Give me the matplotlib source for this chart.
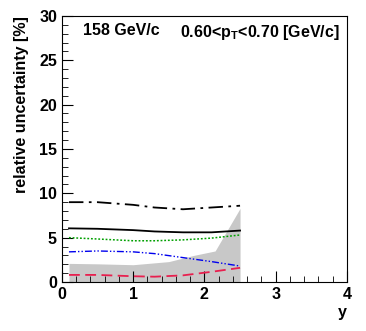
import numpy as np
import matplotlib
matplotlib.use("Agg")
import matplotlib.pyplot as plt
from matplotlib.ticker import MultipleLocator

plt.rcParams['font.family'] = ['Liberation Sans', 'DejaVu Sans']
plt.rcParams['font.weight'] = 'bold'
plt.rcParams['mathtext.fontset'] = 'custom'
plt.rcParams['mathtext.rm'] = 'Liberation Sans:bold'
plt.rcParams['mathtext.bf'] = 'Liberation Sans:bold'

# rapidity points
y_pts = [0.1, 0.5, 1.0, 1.3, 1.7, 2.1, 2.5]
dashdot_black = [9.0, 9.0, 8.7, 8.4, 8.2, 8.4, 8.6]
solid_black = [6.05, 6.0, 5.85, 5.7, 5.6, 5.6, 5.8]
green_dotted = [5.0, 4.85, 4.65, 4.65, 4.75, 4.95, 5.3]
blue_dashdotdot = [3.4, 3.5, 3.4, 3.2, 2.75, 2.3, 1.8]
red_dashed = [0.8, 0.8, 0.65, 0.6, 0.75, 1.15, 1.6]

# gray band (statistical)
band_x = [0.1, 0.5, 1.0, 1.5, 1.85, 2.15, 2.5]
band_top = [2.1, 2.05, 1.95, 2.3, 3.0, 3.5, 8.3]

fig = plt.figure(figsize=(3.66, 3.31), dpi=100)
ax = fig.add_axes([0.169, 0.148, 0.779, 0.804])

ax.fill_between(band_x, 0, band_top, color='#c8c8c8', lw=0)
ax.plot(y_pts, dashdot_black, color='black', lw=1.3, dashes=(8, 3, 1.5, 3))
ax.plot(y_pts, solid_black, color='black', lw=1.3)
ax.plot(y_pts, green_dotted, color='#00a000', lw=1.1, dashes=(1.2, 1.2))
ax.plot(y_pts, blue_dashdotdot, color='#0000ee', lw=1.0, dashes=(5, 1.5, 1, 1.5, 1, 1.5))
ax.plot(y_pts, red_dashed, color='#e8204f', lw=1.3, dashes=(6, 3))

ax.set_xlim(0, 4)
ax.set_ylim(0, 30)
ax.xaxis.set_major_locator(MultipleLocator(1))
ax.xaxis.set_minor_locator(MultipleLocator(0.2))
ax.yaxis.set_major_locator(MultipleLocator(5))
ax.yaxis.set_minor_locator(MultipleLocator(1))
ax.tick_params(which='both', direction='in', top=False, right=False,
               labelsize=11.5)
ax.tick_params(which='major', length=8)
ax.tick_params(which='minor', length=4)
for lab in ax.get_xticklabels() + ax.get_yticklabels():
    lab.set_fontweight('bold')

ax.set_xlabel('y', fontsize=11.5, fontweight='bold', loc='right', labelpad=2)
ax.set_ylabel('relative uncertainty [%]', fontsize=11.5, fontweight='bold',
              loc='top', labelpad=7)

ax.text(0.074, 0.974, '158 GeV/c', transform=ax.transAxes, fontsize=11.5,
        fontweight='bold', va='top')
ax.text(0.414, 0.974, r'0.60<p$_\mathbf{T}$<0.70 [GeV/c]', transform=ax.transAxes,
        fontsize=11.5, fontweight='bold', va='top')

fig.savefig('out.png', dpi=100)
